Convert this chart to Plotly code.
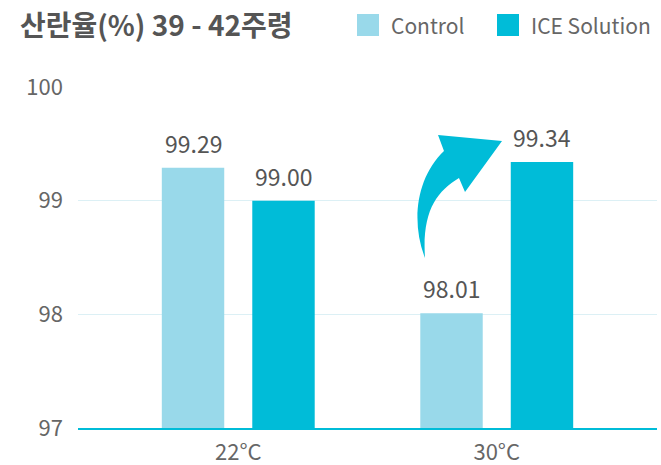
import plotly.graph_objects as go

categories = ["22°C", "30°C"]
series_names = ["Control", "ICE Solution"]
control_values = [99.29, 98.01]
ice_values = [99.00, 99.34]
y_ticks = [97, 98, 99, 100]
title_text = "산란율(%) 39 - 42주령"

W, H = 661, 465
ML, MR, MT, MB = 78, 4, 87, 37
PW, PH = W - ML - MR, H - MT - MB

C_CONTROL = "#99d9ea"
C_ICE = "#00bcd8"
FONT = "Noto Sans CJK KR"
BARGAP = 0.30


def px(x, y):
    return (x - ML) / PW, (H - MB - y) / PH


fig = go.Figure()
annotations = []
series = [(series_names[0], control_values, C_CONTROL),
          (series_names[1], ice_values, C_ICE)]
slot = (1 - BARGAP) / len(series)
for k, (name, vals, col) in enumerate(series):
    fig.add_trace(go.Bar(
        x=categories, y=vals, name=name, marker=dict(color=col, line=dict(width=0)),
        cliponaxis=True, showlegend=False,
    ))
    off = (k - (len(series) - 1) / 2) * slot
    for i, v in enumerate(vals):
        annotations.append(dict(xref="x", yref="y", x=i + off, y=v, text=f"{v:.2f}",
                                showarrow=False, xanchor="center", yanchor="bottom",
                                yshift=6, font=dict(size=23, color="#555555", family=FONT)))

# curved arrow (decoration)
path_pix = [
    ("M", (425, 258)),
    ("C", (411, 222), (416, 178), (444, 151)),
    ("L", (438, 135)),
    ("L", (502, 141)),
    ("L", (465, 192)),
    ("L", (459, 178)),
    ("C", (436, 192), (422, 212), (425, 258)),
]
path = ""
for cmd, *ps in path_pix:
    path += cmd + " " + " ".join(f"{px(*p)[0]:.4f},{px(*p)[1]:.4f}" for p in ps) + " "
path += "Z"

shapes = [dict(type="path", xref="paper", yref="paper", path=path,
               fillcolor=C_ICE, line=dict(width=0))]

# manual legend
leg = [(series_names[0], C_CONTROL, 357, 389), (series_names[1], C_ICE, 497, 529)]
for name, col, sx, tx in leg:
    x0, y0 = px(sx, 36)
    x1, y1 = px(sx + 22, 14)
    shapes.append(dict(type="rect", xref="paper", yref="paper", x0=x0, y0=y0, x1=x1, y1=y1,
                       fillcolor=col, line=dict(width=0)))
    ax, ay = px(tx, 25)
    annotations.append(dict(xref="paper", yref="paper", x=ax, y=ay, xanchor="left",
                            yanchor="middle", text=name, showarrow=False,
                            font=dict(size=21, color="#666666", family=FONT)))

fig.update_layout(
    width=W, height=H,
    margin=dict(l=ML, r=MR, t=MT, b=MB, autoexpand=False),
    paper_bgcolor="white", plot_bgcolor="white",
    barmode="group", bargap=BARGAP, bargroupgap=0.31,
    title=dict(text=f"<b>{title_text}</b>", xref="container", yref="container",
               x=20 / W, y=1 - 26 / H, xanchor="left", yanchor="middle",
               font=dict(size=28, color="#555555", family=FONT)),
    font=dict(family=FONT),
    shapes=shapes, annotations=annotations,
    xaxis=dict(range=[-0.62, 1.62], showgrid=False, showline=True, linecolor=C_ICE,
               linewidth=2, ticks="", tickfont=dict(size=22, color="#666666", family=FONT),
               fixedrange=True, automargin=False, ticklabelstandoff=4),
    yaxis=dict(range=[97, 100], tickvals=y_ticks,
               ticktext=[str(t) for t in y_ticks], showgrid=True, gridcolor="#dcf0f5",
               gridwidth=1, zeroline=False, showline=False, ticks="", automargin=False,
               tickfont=dict(size=22, color="#666666", family=FONT), ticklabelstandoff=14),
)

fig.write_html("out.html", config={"displayModeBar": False},
               post_script="document.body.style.margin='0';document.body.style.padding='0';")
